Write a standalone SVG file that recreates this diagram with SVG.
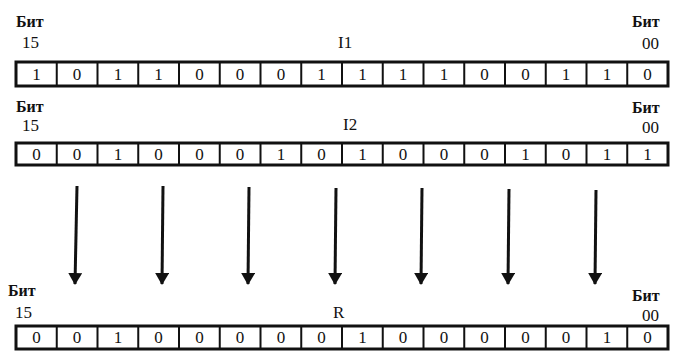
<svg xmlns="http://www.w3.org/2000/svg" width="675" height="351" viewBox="0 0 675 351">
<style>
.lbl{font-family:"Liberation Serif","DejaVu Serif",serif;font-weight:bold;font-size:16px;fill:#111}
.num{font-family:"Liberation Serif","DejaVu Serif",serif;font-size:17px;fill:#111}
.name{font-family:"Liberation Serif","DejaVu Serif",serif;font-size:17px;fill:#111}
.bit{font-family:"Liberation Serif","DejaVu Serif",serif;font-size:17px;fill:#111;text-anchor:middle}
.box{fill:#fff;stroke:#111;stroke-width:3}
.div{stroke:#111;stroke-width:2}
.arr{stroke:#111;stroke-width:3;fill:none;marker-end:url(#ah)}
</style>
<defs>
<marker id="ah" viewBox="0 0 12 14" refX="11" refY="7" markerWidth="12" markerHeight="14" markerUnits="userSpaceOnUse" orient="auto">
<path d="M0,0 L12,7 L0,14 Z" fill="#111"/>
</marker>
</defs>
<rect width="675" height="351" fill="#fff"/>

<g id="reg-I1">
<text class="lbl" x="16" y="27">Бит</text>
<text class="num" x="22" y="48">15</text>
<text class="name" x="338" y="48">I1</text>
<text class="lbl" x="632" y="27">Бит</text>
<text class="num" x="642" y="49">00</text>
<rect class="box" x="16" y="62" width="652" height="24"/>
<path class="div" d="M56.75,62V86M97.5,62V86M138.25,62V86M179,62V86M219.75,62V86M260.5,62V86M301.25,62V86M342,62V86M382.75,62V86M423.5,62V86M464.25,62V86M505,62V86M545.75,62V86M586.5,62V86M627.25,62V86"/>
<g class="bit">
<text x="36.4" y="80">1</text><text x="77.1" y="80">0</text><text x="117.9" y="80">1</text><text x="158.6" y="80">1</text>
<text x="199.4" y="80">0</text><text x="240.1" y="80">0</text><text x="280.9" y="80">0</text><text x="321.6" y="80">1</text>
<text x="362.4" y="80">1</text><text x="403.1" y="80">1</text><text x="443.9" y="80">1</text><text x="484.6" y="80">0</text>
<text x="525.4" y="80">0</text><text x="566.1" y="80">1</text><text x="606.9" y="80">1</text><text x="647.6" y="80">0</text>
</g>
</g>

<g id="reg-I2">
<text class="lbl" x="16" y="112">Бит</text>
<text class="num" x="22" y="131">15</text>
<text class="name" x="343" y="130">I2</text>
<text class="lbl" x="632" y="113">Бит</text>
<text class="num" x="642" y="133">00</text>
<rect class="box" x="16" y="143" width="652" height="22"/>
<path class="div" d="M56.75,143V165M97.5,143V165M138.25,143V165M179,143V165M219.75,143V165M260.5,143V165M301.25,143V165M342,143V165M382.75,143V165M423.5,143V165M464.25,143V165M505,143V165M545.75,143V165M586.5,143V165M627.25,143V165"/>
<g class="bit">
<text x="36.4" y="160">0</text><text x="77.1" y="160">0</text><text x="117.9" y="160">1</text><text x="158.6" y="160">0</text>
<text x="199.4" y="160">0</text><text x="240.1" y="160">0</text><text x="280.9" y="160">1</text><text x="321.6" y="160">0</text>
<text x="362.4" y="160">1</text><text x="403.1" y="160">0</text><text x="443.9" y="160">0</text><text x="484.6" y="160">0</text>
<text x="525.4" y="160">1</text><text x="566.1" y="160">0</text><text x="606.9" y="160">1</text><text x="647.6" y="160">1</text>
</g>
</g>

<g id="connectors">
<path class="arr" d="M77,186L75,284"/>
<path class="arr" d="M163,186L162,284"/>
<path class="arr" d="M249,187L248,284"/>
<path class="arr" d="M336,188L335,284"/>
<path class="arr" d="M422,188L421,284"/>
<path class="arr" d="M509,189L508,284"/>
<path class="arr" d="M596,190L595,284"/>
</g>

<g id="reg-R">
<text class="lbl" x="8" y="296">Бит</text>
<text class="num" x="15" y="318">15</text>
<text class="name" x="333" y="318">R</text>
<text class="lbl" x="632" y="301">Бит</text>
<text class="num" x="642" y="321">00</text>
<rect class="box" x="16" y="326" width="652" height="23"/>
<path class="div" d="M56.75,326V349M97.5,326V349M138.25,326V349M179,326V349M219.75,326V349M260.5,326V349M301.25,326V349M342,326V349M382.75,326V349M423.5,326V349M464.25,326V349M505,326V349M545.75,326V349M586.5,326V349M627.25,326V349"/>
<g class="bit">
<text x="36.4" y="343">0</text><text x="77.1" y="343">0</text><text x="117.9" y="343">1</text><text x="158.6" y="343">0</text>
<text x="199.4" y="343">0</text><text x="240.1" y="343">0</text><text x="280.9" y="343">0</text><text x="321.6" y="343">0</text>
<text x="362.4" y="343">1</text><text x="403.1" y="343">0</text><text x="443.9" y="343">0</text><text x="484.6" y="343">0</text>
<text x="525.4" y="343">0</text><text x="566.1" y="343">0</text><text x="606.9" y="343">1</text><text x="647.6" y="343">0</text>
</g>
</g>
</svg>
